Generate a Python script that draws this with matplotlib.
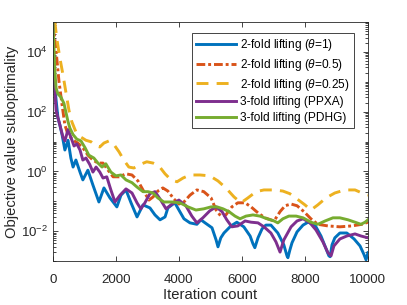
import matplotlib
matplotlib.use("Agg")
import matplotlib.pyplot as plt
from matplotlib.ticker import LogLocator, NullFormatter, FixedLocator

plt.rcParams['font.family'] = ['Liberation Sans', 'DejaVu Sans']
plt.rcParams['mathtext.fontset'] = 'custom'
plt.rcParams['mathtext.it'] = 'Liberation Sans:italic'
plt.rcParams['mathtext.rm'] = 'Liberation Sans'

# values
it_t1 = [0, 30, 100, 160, 220, 290, 380, 480, 570, 640, 730, 860, 950, 1110, 1270, 1460,
         1620, 1810, 2030, 2160, 2320, 2480, 2670, 2860, 3080, 3240, 3400, 3560, 3650, 3870,
         4030, 4160, 4350, 4570, 4700, 4830, 5050, 5180, 5240, 5330, 5430, 5650, 5840, 6060,
         6260, 6350, 6410, 6510, 6640, 6760, 6920, 7140, 7330, 7430, 7460, 7520, 7590, 7750,
         7940, 8100, 8320, 8510, 8670, 8760, 8800, 8860, 8950, 9110, 9330, 9560, 9750, 9870,
         9940, 10000]
val_t1 = [1e5, 1.7e3, 2.5e2, 62, 36, 17, 5.2, 11, 2.8, 1.4, 2.4, 0.95, 0.52, 1.1, 0.35, 0.095,
          0.28, 0.13, 0.065, 0.16, 0.24, 0.089, 0.030, 0.076, 0.060, 0.035, 0.024, 0.030, 0.060, 0.089,
          0.045, 0.026, 0.019, 0.017, 0.024, 0.019, 0.013, 0.0051, 0.0030, 0.006, 0.0087, 0.015, 0.020, 0.014,
          0.0069, 0.0038, 0.0028, 0.006, 0.012, 0.016, 0.016, 0.0087, 0.0035, 0.0015, 0.0013, 0.0023, 0.0041, 0.0095,
          0.016, 0.020, 0.016, 0.0069, 0.0026, 0.0015, 0.0014, 0.0035, 0.006, 0.0087, 0.0087, 0.0055, 0.0032, 0.0017,
          0.0011, 0.0019]

it_t05 = [0, 100, 190, 290, 380, 480, 640, 790, 950, 1110, 1270, 1430, 1590, 1750, 1910, 2100,
          2320, 2510, 2700, 2890, 3050, 3180, 3330, 3490, 3650, 3840, 4000, 4160, 4350, 4570,
          4790, 5020, 5180, 5330, 5490, 5680, 5870, 6100, 6290, 6510, 6730, 7020, 7210, 7370,
          7560, 7750, 7970, 8190, 8410, 8730, 9110, 9490, 9810, 10000]
val_t05 = [1e5, 1.1e4, 1.1e3, 1.7e2, 36, 17, 11, 8.9, 6.2, 3.5, 2.4, 1.9, 1.9, 1.1, 0.66, 0.66,
           0.83, 0.76, 0.48, 0.21, 0.11, 0.14, 0.22, 0.28, 0.22, 0.12, 0.081, 0.095, 0.16, 0.24,
           0.21, 0.13, 0.051, 0.032, 0.035, 0.065, 0.089, 0.089, 0.065, 0.041, 0.028, 0.022, 0.045, 0.071,
           0.081, 0.071, 0.045, 0.026, 0.017, 0.015, 0.014, 0.015, 0.017, 0.020]

it_t025 = [0, 60, 130, 220, 320, 410, 510, 600, 730, 890, 1050, 1210, 1370, 1490, 1620, 1780,
           1940, 2100, 2250, 2410, 2570, 2760, 2980, 3180, 3370, 3560, 3750, 3940, 4130, 4350,
           4670, 4980, 5240, 5490, 5750, 5970, 6190, 6450, 6700, 7020, 7300, 7520, 7750, 8000,
           8190, 8410, 8670, 8950, 9270, 9590, 9810, 10000]
val_t025 = [5e5, 1e5, 2.5e4, 6.3e3, 1.7e3, 4.6e2, 1.1e2, 46, 21, 14, 11, 9.8, 7.1, 6.6, 8.9, 10.5,
            7.8, 4.5, 2.4, 1.4, 1.3, 1.7, 2.1, 1.9, 1.5, 0.83, 0.52, 0.45, 0.60, 0.76,
            0.76, 0.71, 0.48, 0.28, 0.14, 0.089, 0.13, 0.21, 0.24, 0.24, 0.22, 0.18, 0.12, 0.076,
            0.051, 0.076, 0.13, 0.19, 0.24, 0.24, 0.19, 0.16]

it_ppxa = [0, 30, 60, 100, 160, 220, 320, 380, 480, 570, 670, 760, 860, 950, 1050, 1170,
           1270, 1370, 1490, 1590, 1710, 1840, 1970, 2130, 2320, 2510, 2670, 2790, 2920, 3080,
           3240, 3400, 3590, 3780, 4000, 4220, 4410, 4570, 4760, 4980, 5180, 5370, 5520, 5680,
           5870, 6100, 6290, 6510, 6700, 6920, 7080, 7210, 7330, 7560, 7750, 7940, 8160, 8350,
           8570, 8730, 8830, 8920, 9110, 9330, 9590, 9780, 10000]
val_ppxa = [1e5, 5.4e3, 5.4e2, 1.1e2, 62, 36, 14, 10.5, 25, 14, 7.1, 8.3, 5.2, 2.4, 2.8, 1.7,
            0.95, 1.4, 0.95, 0.60, 0.66, 0.24, 0.095, 0.16, 0.26, 0.19, 0.089, 0.056, 0.089, 0.18,
            0.21, 0.12, 0.056, 0.081, 0.11, 0.071, 0.032, 0.019, 0.028, 0.048, 0.065, 0.045, 0.024, 0.014,
            0.015, 0.022, 0.020, 0.019, 0.014, 0.0087, 0.0044, 0.0020, 0.0051, 0.014, 0.022, 0.026, 0.019, 0.011,
            0.0044, 0.0019, 0.0015, 0.0032, 0.0055, 0.0069, 0.0081, 0.0069, 0.006]

it_pdhg = [0, 30, 60, 100, 160, 250, 350, 410, 480, 540, 640, 760, 890, 1020, 1140, 1300,
           1430, 1560, 1680, 1840, 2000, 2160, 2320, 2510, 2670, 2860, 3020, 3180, 3330, 3520,
           3780, 4030, 4290, 4540, 4790, 5020, 5210, 5400, 5590, 5780, 5940, 6130, 6350, 6570,
           6800, 7020, 7140, 7300, 7490, 7720, 7940, 8190, 8410, 8640, 8890, 9110, 9370, 9590,
           9780, 9910, 10000]
val_pdhg = [1e5, 1.7e4, 2.5e3, 6.2e2, 3.9e2, 3.1e2, 1.9e2, 98, 46, 28, 17, 12, 10.5, 6.2, 3.5, 2.8,
            1.9, 1.4, 1.8, 0.95, 0.71, 0.76, 0.52, 0.42, 0.30, 0.21, 0.21, 0.19, 0.13, 0.095,
            0.095, 0.089, 0.065, 0.051, 0.056, 0.065, 0.065, 0.056, 0.045, 0.032, 0.026, 0.032, 0.035, 0.032,
            0.026, 0.022, 0.019, 0.026, 0.032, 0.032, 0.028, 0.020, 0.017, 0.022, 0.028, 0.028, 0.024, 0.020,
            0.017, 0.020, 0.024]

labels = ['2-fold lifting ($\\theta$=1)', '2-fold lifting ($\\theta$=0.5)',
          '2-fold lifting ($\\theta$=0.25)', '3-fold lifting (PPXA)', '3-fold lifting (PDHG)']

fig = plt.figure(figsize=(4.07, 3.05), dpi=100)
ax = fig.add_axes([0.130, 0.144, 0.774, 0.784])

lw = 2.1
ax.plot(it_t1, val_t1, color='#0072BD', lw=lw, label=labels[0])
ax.plot(it_t05, val_t05, color='#D95319', lw=lw, dashes=(3.0, 1.0, 1.0, 1.0), label=labels[1])
ax.plot(it_t025, val_t025, color='#EDB120', lw=lw, dashes=(4.1, 2.8), label=labels[2])
ax.plot(it_ppxa, val_ppxa, color='#7E2F8E', lw=lw, label=labels[3])
ax.plot(it_pdhg, val_pdhg, color='#77AC30', lw=lw, label=labels[4])

ax.set_yscale('log')
ax.set_xlim(0, 10000)
ax.set_ylim(1e-3, 1e5)
ax.set_xticks([0, 2000, 4000, 6000, 8000, 10000])
ax.yaxis.set_major_locator(FixedLocator([1e-2, 1e0, 1e2, 1e4]))
ax.yaxis.set_minor_locator(LogLocator(base=10, subs=range(1, 10), numticks=20))
ax.yaxis.set_minor_formatter(NullFormatter())

for s in ax.spines.values():
    s.set_color('#262626')
    s.set_linewidth(0.6)
ax.tick_params(which='both', direction='in', top=True, right=True, colors='#262626',
               labelsize=9.6, width=0.6)
ax.tick_params(which='major', length=3.5)
ax.tick_params(which='minor', length=2)
ax.tick_params(axis='x', pad=9)

ax.set_xlabel('Iteration count', fontsize=10.6, color='#262626', labelpad=2)
ax.set_ylabel('Objective value suboptimality', fontsize=10.6, color='#262626', labelpad=1)

leg = ax.legend(loc='upper right', bbox_to_anchor=(0.955, 0.955), fontsize=8.6,
                frameon=True, fancybox=False, edgecolor='#262626', framealpha=1,
                handlelength=3.4, handletextpad=0.3, labelspacing=0.32, borderpad=0.35,
                borderaxespad=0)
leg.get_frame().set_linewidth(0.6)

fig.savefig('out.png', dpi=100)
